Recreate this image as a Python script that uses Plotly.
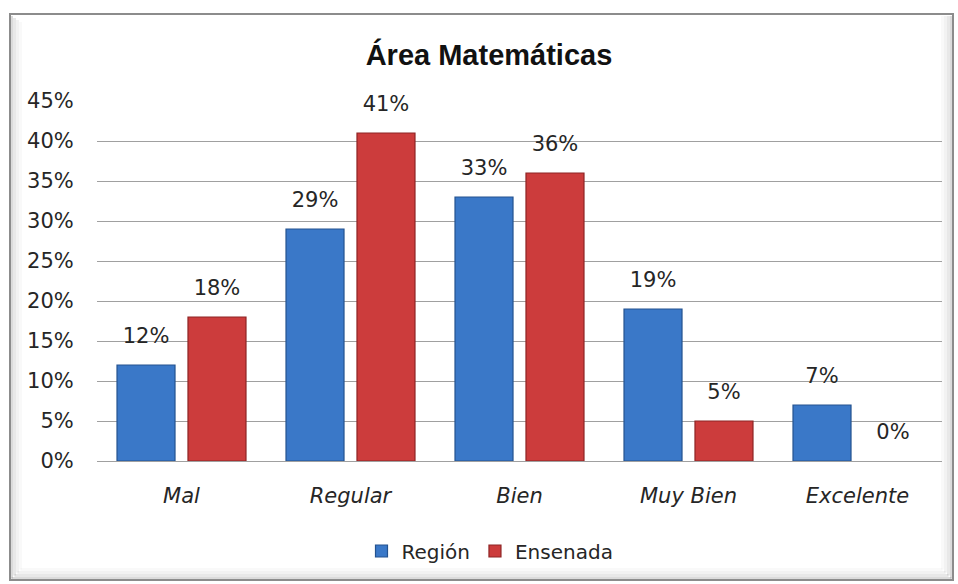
import plotly.graph_objects as go

categories = ["Mal", "Regular", "Bien", "Muy Bien", "Excelente"]
region = [0.12, 0.29, 0.33, 0.19, 0.07]
ensenada = [0.18, 0.41, 0.36, 0.05, 0.0]
series_names = ["Región", "Ensenada"]
title_text = "Área Matemáticas"

W, H = 958, 584
PL, PR, PT, PB = 97, 942, 101, 461   # plot area in pixels
FONT = "DejaVu Sans, sans-serif"

def pxx(x):
    return (x - PL) / (PR - PL)

def pxy(y):
    return (PB - y) / (PB - PT)

BLUE, BLUE_EDGE = "#3A78C8", "#24528F"
RED, RED_EDGE = "#CC3C3C", "#8E2424"

fig = go.Figure()
for name, vals, col, edge in [(series_names[0], region, BLUE, BLUE_EDGE),
                              (series_names[1], ensenada, RED, RED_EDGE)]:
    fig.add_trace(go.Bar(
        x=categories, y=vals, name=name,
        marker=dict(color=col, line=dict(color=edge, width=[1.2 if v > 0 else 0 for v in vals])),
        hoverinfo="x+y",
    ))
# value labels, grouped to sit over the bars
for name, vals in [(series_names[0], region), (series_names[1], ensenada)]:
    fig.add_trace(go.Scatter(
        x=categories, y=vals, mode="markers+text", showlegend=False,
        text=[f"{round(v*100)}%" for v in vals], textposition="top center",
        marker=dict(size=26, opacity=0), hoverinfo="skip",
        textfont=dict(size=21, color="#262626", family=FONT), cliponaxis=False,
    ))

shapes = []
for i, a in enumerate([0.22, 0.14, 0.08, 0.04]):
    off = 1.5 + i * 3
    c = f"rgba(90,90,90,{a})"
    shapes.append(dict(type="line", xref="paper", yref="paper",
                       x0=pxx(10 + off), x1=pxx(10 + off), y0=pxy(14 + 2 + i * 2), y1=pxy(580 - off),
                       line=dict(color=c, width=3), layer="below"))
    shapes.append(dict(type="line", xref="paper", yref="paper",
                       x0=pxx(953 - off), x1=pxx(953 - off), y0=pxy(14 + 2), y1=pxy(580 - off),
                       line=dict(color=c, width=3), layer="below"))
    shapes.append(dict(type="line", xref="paper", yref="paper",
                       x0=pxx(10 + off), x1=pxx(953 - off), y0=pxy(580 - off), y1=pxy(580 - off),
                       line=dict(color=c, width=3), layer="below"))
shapes.append(dict(type="rect", xref="paper", yref="paper",
                   x0=pxx(10), x1=pxx(953), y0=pxy(580), y1=pxy(14),
                   line=dict(color="#8C8C8C", width=2), layer="below"))

fig.update_layout(
    width=W, height=H,
    margin=dict(l=PL, r=W - PR, t=PT, b=H - PB, autoexpand=False),
    paper_bgcolor="white", plot_bgcolor="white",
    font=dict(family=FONT, size=21, color="#262626"),
    barmode="group", bargap=0.16, bargroupgap=0.183,
    scattermode="group", scattergap=0.16,
    title=dict(text="<b>" + title_text + "</b>", x=489 / W, xanchor="center", xref="container",
               y=1 - 55 / H, yanchor="middle", yref="container",
               font=dict(size=29, color="#111111", family="Liberation Sans, Arial, sans-serif")),
    xaxis=dict(showgrid=False, showline=False, automargin=False,
               ticks="outside", ticklen=16, tickcolor="rgba(0,0,0,0)",
               tickfont=dict(size=21, family=FONT, style="italic", color="#262626")),
    yaxis=dict(range=[0, 0.45], dtick=0.05, tickformat=".0%", automargin=False,
               showgrid=True, gridcolor="#A0A0A0", gridwidth=1.2,
               zeroline=True, zerolinecolor="#A0A0A0", zerolinewidth=1.2,
               showline=False, ticks="outside", ticklen=18, tickcolor="rgba(0,0,0,0)",
               tickfont=dict(size=21, family=FONT, color="#262626")),
    legend=dict(orientation="h", x=pxx(490), xanchor="center", y=pxy(551), yanchor="middle",
                font=dict(size=20, family=FONT, color="#262626"), itemwidth=30,
                traceorder="normal", bgcolor="rgba(0,0,0,0)"),
    shapes=shapes,
)

fig.write_html("out.html", config={"displayModeBar": False},
               post_script="document.body.style.margin='0';")
